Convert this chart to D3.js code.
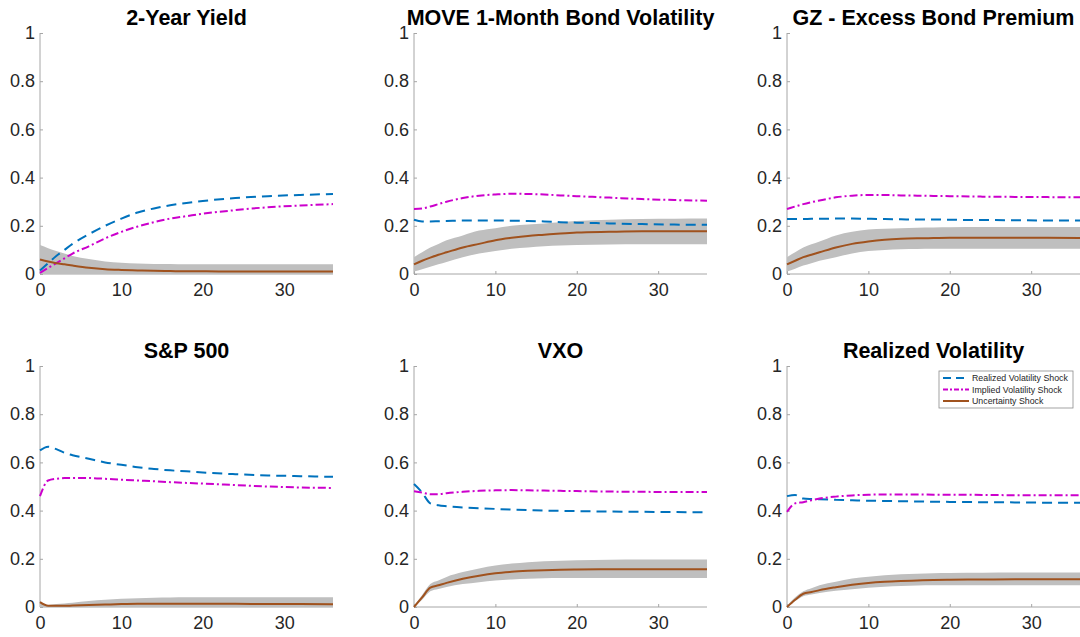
<!DOCTYPE html>
<html>
<head>
<meta charset="utf-8">
<script src="https://cdn.jsdelivr.net/npm/d3@7"></script>
<style>
  body { margin: 0; background: #fff; }
  svg { font-family: Arial, "Liberation Sans", sans-serif; }
</style>
</head>
<body>
<div id="chart"></div>
<script>
// ############################################################################
// Impulse responses: realized vs implied volatility vs uncertainty shocks
// ############################################################################

// Horizon (months) at which every series is read
const months = [0, 1, 2, 3, 4, 6, 8, 10, 12, 14, 16, 18, 20, 24, 28, 32, 36]

// --- 2-Year Yield -----------------------------------------------------------
const yieldRealized = [0.015, 0.045, 0.075, 0.1, 0.125, 0.165, 0.2, 0.23, 0.255, 0.272, 0.285, 0.295, 0.303, 0.315, 0.323, 0.328, 0.332]
const yieldImplied  = [0.005, 0.025, 0.045, 0.065, 0.085, 0.115, 0.148, 0.175, 0.197, 0.215, 0.23, 0.24, 0.25, 0.265, 0.277, 0.284, 0.29]
const yieldUncert   = [0.06, 0.052, 0.045, 0.04, 0.035, 0.026, 0.02, 0.017, 0.015, 0.013, 0.012, 0.011, 0.011, 0.01, 0.01, 0.01, 0.01]
const yieldUpper    = [0.12, 0.107, 0.095, 0.085, 0.075, 0.062, 0.052, 0.047, 0.044, 0.042, 0.041, 0.04, 0.04, 0.04, 0.04, 0.04, 0.04]
const yieldLower    = [0, 0, 0, 0, 0, 0, 0, 0, 0, 0, 0, 0, 0, 0, 0, 0, 0]

// --- MOVE 1-Month Bond Volatility --------------------------------------------
const moveRealized = [0.225, 0.218, 0.218, 0.219, 0.22, 0.222, 0.222, 0.222, 0.221, 0.22, 0.218, 0.215, 0.213, 0.21, 0.207, 0.205, 0.204]
const moveImplied  = [0.27, 0.272, 0.28, 0.29, 0.3, 0.315, 0.325, 0.33, 0.333, 0.332, 0.33, 0.326, 0.323, 0.317, 0.311, 0.307, 0.304]
const moveUncert   = [0.04, 0.055, 0.068, 0.08, 0.09, 0.11, 0.125, 0.14, 0.15, 0.158, 0.163, 0.168, 0.172, 0.175, 0.177, 0.177, 0.177]
const moveUpper    = [0.07, 0.09, 0.11, 0.125, 0.14, 0.16, 0.18, 0.19, 0.2, 0.205, 0.21, 0.215, 0.22, 0.225, 0.228, 0.229, 0.23]
const moveLower    = [0.01, 0.02, 0.03, 0.04, 0.05, 0.07, 0.085, 0.095, 0.105, 0.11, 0.115, 0.118, 0.12, 0.122, 0.123, 0.123, 0.123]

// --- GZ - Excess Bond Premium ------------------------------------------------
const gzRealized = [0.228, 0.228, 0.228, 0.229, 0.229, 0.23, 0.23, 0.229, 0.228, 0.227, 0.226, 0.226, 0.225, 0.224, 0.223, 0.222, 0.222]
const gzImplied  = [0.27, 0.28, 0.29, 0.298, 0.305, 0.318, 0.325, 0.328, 0.328, 0.326, 0.325, 0.324, 0.323, 0.321, 0.32, 0.319, 0.318]
const gzUncert   = [0.04, 0.055, 0.07, 0.08, 0.09, 0.11, 0.125, 0.135, 0.142, 0.146, 0.148, 0.149, 0.15, 0.15, 0.15, 0.15, 0.149]
const gzUpper    = [0.07, 0.09, 0.11, 0.123, 0.135, 0.16, 0.175, 0.185, 0.188, 0.19, 0.192, 0.193, 0.194, 0.195, 0.195, 0.195, 0.195]
const gzLower    = [0.01, 0.022, 0.035, 0.045, 0.055, 0.07, 0.085, 0.095, 0.1, 0.103, 0.104, 0.105, 0.105, 0.105, 0.105, 0.105, 0.105]

// --- S&P 500 -----------------------------------------------------------------
const spRealized = [0.65, 0.665, 0.655, 0.64, 0.63, 0.615, 0.6, 0.59, 0.58, 0.573, 0.567, 0.563, 0.558, 0.551, 0.546, 0.543, 0.54]
const spImplied  = [0.46, 0.525, 0.532, 0.535, 0.535, 0.535, 0.532, 0.528, 0.525, 0.522, 0.518, 0.515, 0.512, 0.506, 0.5, 0.496, 0.494]
const spUncert   = [0.02, 0.005, 0.005, 0.005, 0.006, 0.008, 0.01, 0.012, 0.013, 0.013, 0.013, 0.013, 0.013, 0.013, 0.012, 0.012, 0.011]
const spUpper    = [0.025, 0.008, 0.012, 0.015, 0.018, 0.025, 0.03, 0.034, 0.036, 0.038, 0.039, 0.04, 0.04, 0.04, 0.04, 0.04, 0.04]
const spLower    = [0, 0, 0, 0, 0, 0, 0, 0, 0, 0, 0, 0, 0, 0, 0, 0, 0]

// --- VXO ---------------------------------------------------------------------
const vxoRealized = [0.51, 0.475, 0.43, 0.422, 0.418, 0.413, 0.41, 0.407, 0.404, 0.402, 0.4, 0.399, 0.398, 0.396, 0.395, 0.394, 0.393]
const vxoImplied  = [0.48, 0.475, 0.468, 0.468, 0.472, 0.478, 0.482, 0.484, 0.485, 0.484, 0.483, 0.482, 0.481, 0.479, 0.478, 0.477, 0.477]
const vxoUncert   = [0, 0.04, 0.08, 0.09, 0.1, 0.117, 0.13, 0.14, 0.146, 0.15, 0.153, 0.155, 0.156, 0.157, 0.157, 0.157, 0.157]
const vxoUpper    = [0.005, 0.05, 0.095, 0.11, 0.125, 0.145, 0.16, 0.172, 0.18, 0.186, 0.19, 0.192, 0.194, 0.196, 0.197, 0.197, 0.197]
const vxoLower    = [0, 0.03, 0.065, 0.075, 0.083, 0.095, 0.103, 0.11, 0.114, 0.117, 0.119, 0.12, 0.12, 0.12, 0.12, 0.12, 0.12]

// --- Realized Volatility -----------------------------------------------------
const rvRealized = [0.46, 0.465, 0.45, 0.448, 0.447, 0.445, 0.443, 0.441, 0.44, 0.439, 0.438, 0.437, 0.436, 0.435, 0.434, 0.433, 0.433]
const rvImplied  = [0.395, 0.43, 0.435, 0.443, 0.45, 0.458, 0.463, 0.466, 0.467, 0.467, 0.467, 0.466, 0.466, 0.465, 0.464, 0.464, 0.464]
const rvUncert   = [0, 0.03, 0.055, 0.062, 0.07, 0.082, 0.092, 0.1, 0.105, 0.108, 0.11, 0.112, 0.113, 0.114, 0.115, 0.115, 0.115]
const rvUpper    = [0.005, 0.04, 0.065, 0.078, 0.09, 0.105, 0.118, 0.126, 0.132, 0.136, 0.138, 0.14, 0.141, 0.142, 0.143, 0.143, 0.143]
const rvLower    = [0, 0.025, 0.045, 0.052, 0.058, 0.067, 0.074, 0.08, 0.084, 0.087, 0.089, 0.09, 0.09, 0.09, 0.09, 0.09, 0.09]

const titles = ['2-Year Yield', 'MOVE 1-Month Bond Volatility', 'GZ - Excess Bond Premium',
                'S&P 500', 'VXO', 'Realized Volatility']
const yTicks = [0, 0.2, 0.4, 0.6, 0.8, 1]
const xTicks = [0, 10, 20, 30]
const legendLabels = ['Realized Volatility Shock', 'Implied Volatility Shock', 'Uncertainty Shock']

const panels = [
  { realized: yieldRealized, implied: yieldImplied, uncert: yieldUncert, upper: yieldUpper, lower: yieldLower },
  { realized: moveRealized,  implied: moveImplied,  uncert: moveUncert,  upper: moveUpper,  lower: moveLower },
  { realized: gzRealized,    implied: gzImplied,    uncert: gzUncert,    upper: gzUpper,    lower: gzLower },
  { realized: spRealized,    implied: spImplied,    uncert: spUncert,    upper: spUpper,    lower: spLower },
  { realized: vxoRealized,   implied: vxoImplied,   uncert: vxoUncert,   upper: vxoUpper,   lower: vxoLower },
  { realized: rvRealized,    implied: rvImplied,    uncert: rvUncert,    upper: rvUpper,    lower: rvLower },
]

// ----------------------------------------------------------------------------
// Layout
// ----------------------------------------------------------------------------

const W = 1080, H = 637
const colLeft = [40, 414, 787]
const rowTop = [33, 366]
const plotW = 293, plotH = 241

const colors = { realized: '#0072bd', implied: '#cc00cc', uncert: '#a0521e', band: '#bfbfbf', axis: '#a6a6a6', text: '#262626' }

const svg = d3.select('#chart').append('svg')
  .attr('width', W)
  .attr('height', H)

const x = d3.scaleLinear().domain([0, 36]).range([0, plotW])
const y = d3.scaleLinear().domain([0, 1]).range([plotH, 0])

const line = d3.line()
  .x((d, i) => x(months[i]))
  .y(d => y(d))
  .curve(d3.curveMonotoneX)

panels.forEach((p, k) => {
  const g = svg.append('g')
    .attr('transform', `translate(${colLeft[k % 3]},${rowTop[Math.floor(k / 3)]})`)

  // Axes first: the confidence band is painted over them
  const yAxis = g.append('g')
    .call(d3.axisLeft(y).tickValues(yTicks).tickFormat(d3.format('~g')).tickSize(-3).tickPadding(5))
  const xAxis = g.append('g')
    .attr('transform', `translate(0,${plotH})`)
    .call(d3.axisBottom(x).tickValues(xTicks).tickSize(-3).tickPadding(9))

  for (let ax of [xAxis, yAxis]) {
    ax.select('.domain').attr('stroke', colors.axis).attr('stroke-width', 1)
    ax.selectAll('.tick line').attr('stroke', colors.axis)
    ax.selectAll('.tick text')
      .attr('fill', colors.text)
      .style('font-size', '18px')
      .style('font-family', 'Arial, "Liberation Sans", sans-serif')
  }
  yAxis.select('.domain').attr('d', `M0,${plotH}V0`)
  xAxis.select('.domain').attr('d', `M0,0H${plotW}`)

  // Confidence band
  const area = d3.area()
    .x((d, i) => x(months[i]))
    .y0((d, i) => y(p.lower[i]))
    .y1(d => y(d))
    .curve(d3.curveMonotoneX)
  g.append('path')
    .datum(p.upper)
    .attr('d', area)
    .attr('fill', colors.band)

  // Shock responses
  g.append('path').datum(p.realized)
    .attr('d', line).attr('fill', 'none')
    .attr('stroke', colors.realized).attr('stroke-width', 2)
    .attr('stroke-dasharray', '10,6')
  g.append('path').datum(p.implied)
    .attr('d', line).attr('fill', 'none')
    .attr('stroke', colors.implied).attr('stroke-width', 2)
    .attr('stroke-dasharray', '8,3,2,3')
  g.append('path').datum(p.uncert)
    .attr('d', line).attr('fill', 'none')
    .attr('stroke', colors.uncert).attr('stroke-width', 2)

  // Title
  g.append('text')
    .attr('x', plotW / 2)
    .attr('y', -8)
    .attr('text-anchor', 'middle')
    .style('font-size', '21.5px')
    .style('font-weight', 'bold')
    .attr('fill', '#000')
    .text(titles[k])

  // Legend in the last panel
  if (k == 5) {
    const lg = g.append('g').attr('transform', `translate(${152},${5})`)
    lg.append('rect')
      .attr('width', 134).attr('height', 37)
      .attr('fill', '#fff').attr('stroke', '#8c8c8c').attr('stroke-width', 0.8)
    const styles = [
      { c: colors.realized, dash: '8,5' },
      { c: colors.implied, dash: '5,2,2,2' },
      { c: colors.uncert, dash: null },
    ]
    legendLabels.forEach((lab, i) => {
      const yy = 7 + i * 11.5
      lg.append('line')
        .attr('x1', 4).attr('x2', 30).attr('y1', yy).attr('y2', yy)
        .attr('stroke', styles[i].c).attr('stroke-width', 2)
        .attr('stroke-dasharray', styles[i].dash)
      lg.append('text')
        .attr('x', 33).attr('y', yy + 3)
        .style('font-size', '8.8px')
        .attr('fill', colors.text)
        .text(lab)
    })
  }
})
</script>
</body>
</html>
